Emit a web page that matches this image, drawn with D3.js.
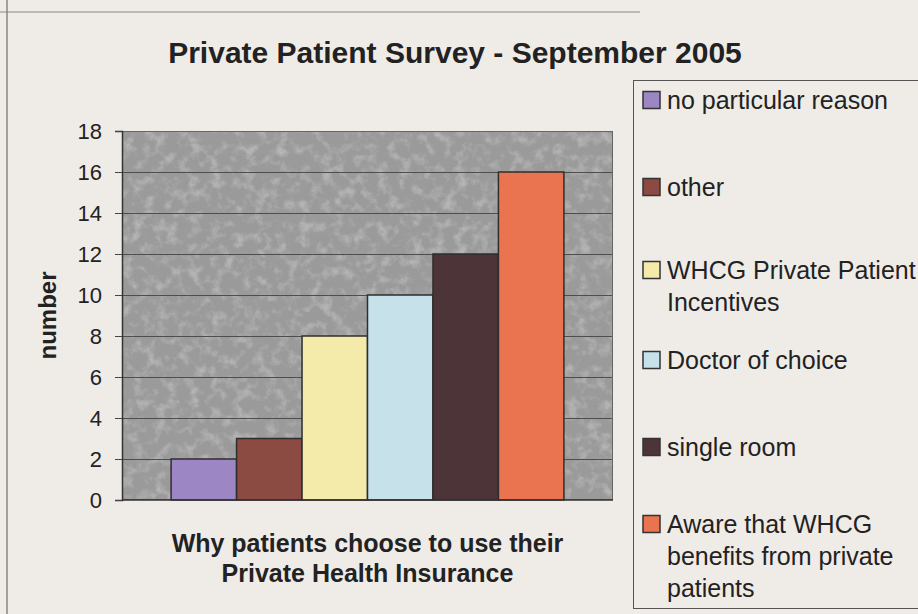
<!DOCTYPE html>
<html>
<head>
<meta charset="utf-8">
<script src="https://cdn.jsdelivr.net/npm/d3@7"></script>
<style>
  html, body { margin: 0; padding: 0; background: #efebe7; }
  svg { display: block; }
  text { font-family: "Liberation Sans", Arial, sans-serif; fill: #222; }
</style>
</head>
<body>
<svg id="chart" width="918" height="614"></svg>
<script>
// Survey responses: one category, one bar per reason
const reasons = [
  "no particular reason",
  "other",
  "WHCG Private Patient Incentives",
  "Doctor of choice",
  "single room",
  "Aware that WHCG benefits from private patients"
];
const counts = [2, 3, 8, 10, 12, 16];
const barColors = ["#9d86c4", "#8b4a42", "#f4ebab", "#c6e1ea", "#4d3438", "#e9744f"];
const legendLines = [
  ["no particular reason"],
  ["other"],
  ["WHCG Private Patient", "Incentives"],
  ["Doctor of choice"],
  ["single room"],
  ["Aware that WHCG", "benefits from private", "patients"]
];
const yTicks = [0, 2, 4, 6, 8, 10, 12, 14, 16, 18];
const chartTitle = "Private Patient Survey - September 2005";
const xTitle = ["Why patients choose to use their", "Private Health Insurance"];
const yTitle = "number";

const svg = d3.select("#chart");
const W = 918, H = 614;
const plot = { left: 122, right: 613, top: 131, bottom: 500 };

// plot-area mottling and stipple
const defs = svg.append("defs");
const mottle = defs.append("filter").attr("id", "mottle")
  .attr("x", 0).attr("y", 0).attr("width", "100%").attr("height", "100%");
mottle.append("feTurbulence").attr("type", "fractalNoise")
  .attr("baseFrequency", 0.09).attr("numOctaves", 3).attr("seed", 7);
mottle.append("feColorMatrix").attr("type", "matrix")
  .attr("values", "0 0 0 0 1  0 0 0 0 1  0 0 0 0 1  3.0 0 0 0 -1.4");
const grain = defs.append("filter").attr("id", "grain")
  .attr("x", 0).attr("y", 0).attr("width", "100%").attr("height", "100%");
grain.append("feTurbulence").attr("type", "fractalNoise")
  .attr("baseFrequency", 1.1).attr("numOctaves", 1).attr("seed", 2);
grain.append("feColorMatrix").attr("type", "matrix")
  .attr("values", "0 0 0 0 0.3  0 0 0 0 0.3  0 0 0 0 0.3  1.8 0 0 0 -0.75");

svg.append("rect").attr("width", W).attr("height", H).attr("fill", "#efebe7");

// page rules of the newsletter layout
svg.append("line").attr("x1", 7).attr("x2", 7).attr("y1", 0).attr("y2", H)
  .attr("stroke", "#555").attr("stroke-width", 1);
svg.append("line").attr("x1", 0).attr("x2", 640).attr("y1", 12).attr("y2", 12)
  .attr("stroke", "#888").attr("stroke-width", 1);

// scales
const y = d3.scaleLinear().domain([0, 18]).range([plot.bottom, plot.top]);
const plotW = plot.right - plot.left;
const barW = plotW / (reasons.length + 1.5); // 150% gap width split either side
const x = d3.scaleBand().domain(reasons)
  .range([plot.left + barW * 0.75, plot.right - barW * 0.75])
  .padding(0);

// plot area
const pw = plot.right - plot.left, ph = plot.bottom - plot.top;
svg.append("rect").attr("x", plot.left).attr("y", plot.top)
  .attr("width", pw).attr("height", ph).attr("fill", "#9b9b9b");
svg.append("rect").attr("x", plot.left).attr("y", plot.top)
  .attr("width", pw).attr("height", ph).attr("filter", "url(#mottle)").attr("opacity", 0.28);
svg.append("rect").attr("x", plot.left).attr("y", plot.top)
  .attr("width", pw).attr("height", ph).attr("filter", "url(#grain)").attr("opacity", 0.45);

// gridlines
svg.append("g").selectAll("line").data(yTicks.filter(d => d > 0)).join("line")
  .attr("x1", plot.left).attr("x2", plot.right)
  .attr("y1", d => Math.round(y(d)) + 0.5).attr("y2", d => Math.round(y(d)) + 0.5)
  .attr("stroke", "#4e4e4e").attr("stroke-width", 1);

// plot border
svg.append("rect").attr("x", plot.left + 0.5).attr("y", plot.top + 0.5)
  .attr("width", pw - 1).attr("height", ph - 1)
  .attr("fill", "none").attr("stroke", "#666").attr("stroke-width", 1);

// bars
svg.append("g").selectAll("rect").data(reasons).join("rect")
  .attr("x", d => x(d))
  .attr("width", x.bandwidth())
  .attr("y", (d, i) => y(counts[i]))
  .attr("height", (d, i) => y(0) - y(counts[i]))
  .attr("fill", (d, i) => barColors[i])
  .attr("stroke", "#2e2e2e").attr("stroke-width", 1.5);

// y axis
const yAxis = d3.axisLeft(y).tickValues(yTicks).tickSize(7).tickPadding(13);
const gy = svg.append("g").attr("transform", `translate(${plot.left},0)`).call(yAxis);
gy.select(".domain").attr("stroke", "#333").attr("stroke-width", 1.5);
gy.selectAll(".tick line").attr("stroke", "#444");
gy.selectAll(".tick text").attr("font-size", 22).attr("fill", "#222")
  .style("font-family", '"Liberation Sans", Arial, sans-serif');

// x axis baseline
svg.append("line").attr("x1", plot.left).attr("x2", plot.right)
  .attr("y1", plot.bottom).attr("y2", plot.bottom)
  .attr("stroke", "#333").attr("stroke-width", 1.5);

// titles
svg.append("text").attr("x", 455).attr("y", 63)
  .attr("text-anchor", "middle").attr("font-size", 30).attr("font-weight", "bold")
  .text(chartTitle);

svg.append("text")
  .attr("transform", `translate(56,${(plot.top + plot.bottom) / 2}) rotate(-90)`)
  .attr("text-anchor", "middle").attr("font-size", 24).attr("font-weight", "bold")
  .text(yTitle);

svg.append("g").selectAll("text").data(xTitle).join("text")
  .attr("x", (plot.left + plot.right) / 2)
  .attr("y", (d, i) => 552 + i * 30)
  .attr("text-anchor", "middle").attr("font-size", 25).attr("font-weight", "bold")
  .text(d => d);

// legend
const legendBox = { x: 633, y: 80, bottom: 608 };
svg.append("rect").attr("x", legendBox.x + 0.5).attr("y", legendBox.y + 0.5)
  .attr("width", W).attr("height", legendBox.bottom - legendBox.y)
  .attr("fill", "none").attr("stroke", "#555").attr("stroke-width", 1);

const entryCenters = [100, 187, 270, 360, 447, 524];
const lineH = 32;
const lg = svg.append("g").selectAll("g").data(legendLines).join("g")
  .attr("transform", (d, i) => `translate(0,${entryCenters[i]})`);
lg.append("rect").attr("x", 643).attr("y", -8.5).attr("width", 17).attr("height", 17)
  .attr("fill", (d, i) => barColors[i]).attr("stroke", "#333").attr("stroke-width", 1.5);
lg.selectAll("text").data(d => d).join("text")
  .attr("x", 667).attr("y", (d, j) => j * lineH).attr("dy", "0.35em")
  .attr("font-size", 25).text(d => d);
</script>
</body>
</html>
